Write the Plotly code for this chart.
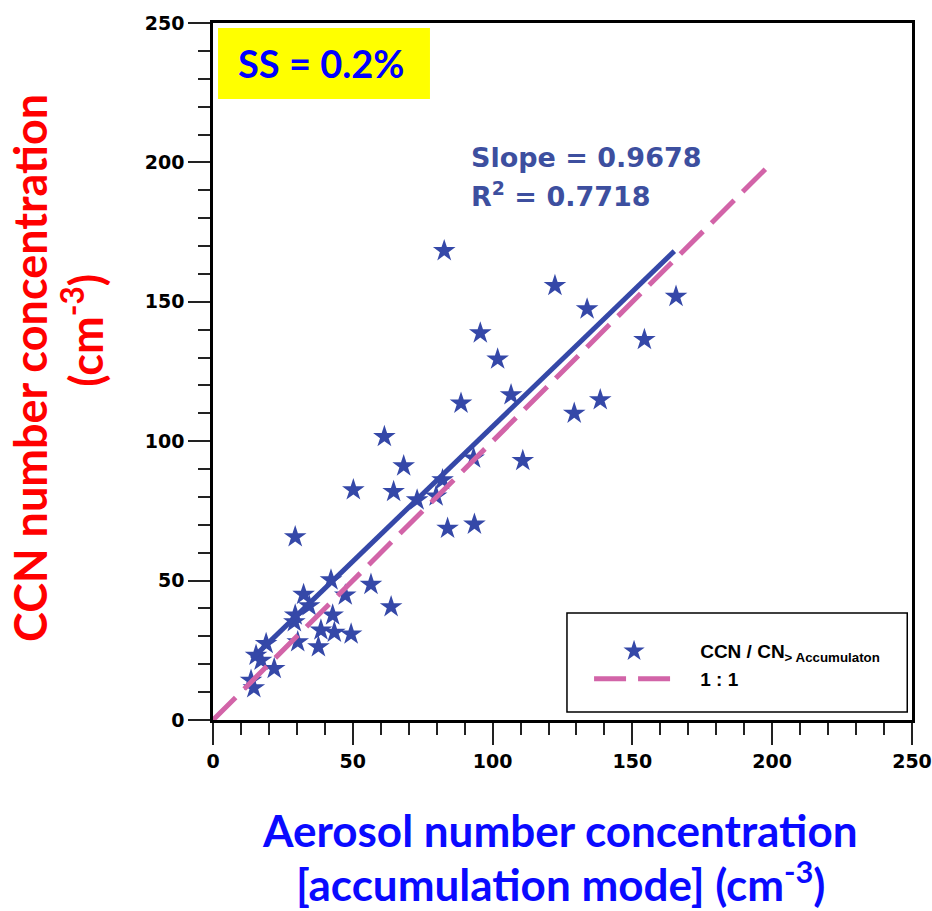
import plotly.graph_objects as go

# ---- data ----
aerosol_x = [82.7, 122.3, 133.8, 165.6, 154.3, 95.6, 101.8, 106.6, 88.7, 138.5,
             129.2, 110.8, 93.2, 61.3, 68.2, 50.2, 64.6, 73.0, 79.8, 82.1,
             83.9, 93.5, 29.4, 42.2, 56.5, 47.3, 32.4, 34.4, 63.7, 29.4,
             42.8, 38.6, 43.4, 49.4, 30.3, 37.7, 29.1, 19.0, 15.4, 17.2,
             21.9, 13.6, 14.6]
ccn_y = [168.3, 155.8, 147.4, 151.9, 136.4, 138.8, 129.4, 116.6, 113.6, 114.8,
         110.0, 93.0, 93.9, 101.6, 91.1, 82.5, 81.9, 78.9, 80.3, 86.1,
         68.7, 70.2, 65.7, 50.2, 48.6, 44.8, 45.0, 40.9, 40.6, 37.6,
         37.6, 32.2, 31.4, 30.8, 28.0, 26.2, 35.2, 27.4, 23.2, 21.4,
         18.4, 14.2, 11.5]

fit_slope = 0.9678
fit_r2 = 0.7718
fit_intercept = 8.5
fit_x = [14.0, 165.0]
one_to_one_x = [0, 200]

tick_vals = [0, 50, 100, 150, 200, 250]
tick_text = ["0", "50", "100", "150", "200", "250"]

star_color = "#3548a8"
pink = "#d264a8"
pad = "\u00a0" * 4

fig = go.Figure()

fig.add_trace(go.Scatter(
    x=aerosol_x, y=ccn_y, mode="markers",
    marker=dict(symbol="star", size=17, color=star_color, line=dict(width=0)),
    name=pad + "CCN / CN<sub>> Accumulaton</sub>", cliponaxis=False))

fig.add_trace(go.Scatter(
    x=one_to_one_x, y=one_to_one_x, mode="lines",
    line=dict(color=pink, width=5, dash="32px,12px"),
    name=pad + "1 : 1"))

fig.add_trace(go.Scatter(
    x=fit_x, y=[fit_slope * v + fit_intercept for v in fit_x], mode="lines",
    line=dict(color=star_color, width=5), showlegend=False))

axis_common = dict(
    range=[0, 250], tickvals=tick_vals, ticktext=tick_text, automargin=False,
    showgrid=False, zeroline=False, showline=True, linecolor="black",
    linewidth=2.5, mirror=True, ticks="outside", ticklen=22, tickwidth=2,
    tickcolor="#222",
    tickfont=dict(family="DejaVu Sans", size=19, color="black", weight="bold"),
    minor=dict(dtick=10, ticks="outside", ticklen=12, tickwidth=2, tickcolor="#222", showgrid=False),
)
fig.update_xaxes(**axis_common)
fig.update_yaxes(**axis_common)

shapes = [
    dict(type="rect", xref="x", yref="y", x0=1.8, x1=77.6, y0=222.7, y1=248.2,
         fillcolor="#ffff00", line=dict(width=0), layer="below"),
    dict(type="rect", xref="x", yref="y", x0=126.6, x1=248.3, y0=2.9, y1=38.4,
         fillcolor="white", line=dict(color="black", width=1.5), layer="below"),
]

annotations = [
    dict(x=38.5, y=235.5, xref="x", yref="y", xanchor="center", yanchor="middle",
         text="<b>SS = 0.2%</b>", showarrow=False,
         font=dict(family="Lato", size=38, color="#0000ff")),
    dict(x=91.5, y=201.8, xref="x", yref="y", xanchor="left", yanchor="middle",
         text="<b>Slope = 0.9678</b>",
         showarrow=False, font=dict(family="DejaVu Sans", size=27, color="#3d4f9f")),
    dict(x=91.5, y=188.5, xref="x", yref="y", xanchor="left", yanchor="middle",
         text="<b>R<sup>2</sup> = 0.7718</b>",
         showarrow=False, font=dict(family="DejaVu Sans", size=27, color="#3d4f9f")),
    dict(x=-0.262, y=0.505, xref="paper", yref="paper", xanchor="center", yanchor="middle",
         text="<b>CCN number concentration</b>",
         textangle=-90, showarrow=False, font=dict(family="Lato", size=45, color="#ff0000")),
    dict(x=-0.186, y=0.56, xref="paper", yref="paper", xanchor="center", yanchor="middle",
         text="<b>(cm<sup>-3</sup>)</b>",
         textangle=-90, showarrow=False, font=dict(family="Lato", size=45, color="#ff0000")),
    dict(x=0.497, y=-0.158, xref="paper", yref="paper", xanchor="center", yanchor="middle",
         text="<b>Aerosol number concentration</b>",
         showarrow=False, font=dict(family="Lato", size=44, color="#0a0aff")),
    dict(x=0.497, y=-0.231, xref="paper", yref="paper", xanchor="center", yanchor="middle",
         text="<b>[accumulation mode] (cm<sup>-3</sup>)</b>",
         showarrow=False, font=dict(family="Lato", size=44, color="#0a0aff")),
]

fig.update_layout(
    width=932, height=911,
    margin=dict(l=213, r=20, t=23, b=191),
    paper_bgcolor="white", plot_bgcolor="white",
    shapes=shapes, annotations=annotations,
    showlegend=True,
    legend=dict(x=0.538, y=0.126, xanchor="left", yanchor="top",
                bgcolor="rgba(0,0,0,0)", borderwidth=0, itemwidth=80, tracegroupgap=0,
                font=dict(family="Liberation Sans", size=19, color="black", weight="bold")),
)

fig.write_html("out.html")
